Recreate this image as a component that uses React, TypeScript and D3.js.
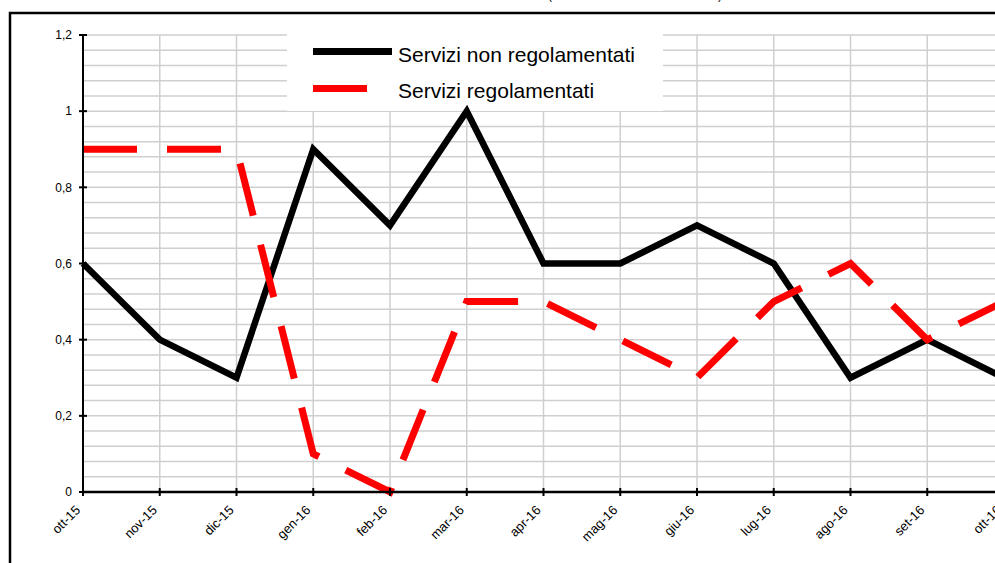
import React from "react";
import * as d3 from "d3";

const months = ["ott-15","nov-15","dic-15","gen-16","feb-16","mar-16","apr-16","mag-16","giu-16","lug-16","ago-16","set-16","ott-16"];
const nonRegolamentati = [0.6,0.4,0.3,0.9,0.7,1.0,0.6,0.6,0.7,0.6,0.3,0.4,0.3];
const regolamentati = [0.9,0.9,0.9,0.1,0,0.5,0.5,0.4,0.3,0.5,0.6,0.4,0.5];
const yTicks = [0,0.2,0.4,0.6,0.8,1,1.2];
const seriesNames = ["Servizi non regolamentati","Servizi regolamentati"];

const W = 995, H = 563;
const FONT = "'Liberation Sans', Arial, sans-serif";

export default function App() {
  const x = d3.scalePoint<string>().domain(months).range([83, 1004]);
  const y = d3.scaleLinear().domain([0, 1.2]).range([492, 35]);
  const line = d3.line<number>().x((_, i) => x(months[i])!).y(d => y(d));
  const minor = d3.range(0, 31).map(i => i * 0.04);
  const fmt = (v: number) => String(Math.round(v * 10) / 10).replace(".", ",");

  return (
    <div style={{ position: "fixed", left: 0, top: 0 }}>
      <svg width={W} height={H} style={{ display: "block", background: "#fff" }}>
        <text x={548} y={-1} fontFamily={FONT} fontSize={12}>(</text>
        <text x={718} y={-1} fontFamily={FONT} fontSize={12}>)</text>
        <rect x={10} y={13} width={1200} height={900} fill="#fff" stroke="#000" strokeWidth={2.5} />
        {/* horizontal grid */}
        {minor.map((v, i) => (
          <line key={"h" + i} x1={83} x2={W} y1={y(v)} y2={y(v)} stroke="#cfcfcf" strokeWidth={1.5} />
        ))}
        {/* vertical grid */}
        {months.slice(1).map(m => (
          <line key={"v" + m} x1={x(m)} x2={x(m)} y1={y(1.2)} y2={y(0)} stroke="#cfcfcf" strokeWidth={1.5} />
        ))}
        {/* legend box */}
        <rect x={287} y={28} width={376} height={83} fill="#fff" />
        {/* series */}
        <path d={line(nonRegolamentati)!} fill="none" stroke="#000" strokeWidth={6.5} strokeLinejoin="miter" />
        <path d={line(regolamentati)!} fill="none" stroke="#ff0000" strokeWidth={7} strokeDasharray="54 30" strokeLinejoin="miter" />
        {/* y axis */}
        <line x1={83} x2={83} y1={y(1.2)} y2={y(0)} stroke="#000" strokeWidth={2} />
        {yTicks.map(t => (
          <g key={"yt" + t}>
            <line x1={79} x2={87} y1={y(t)} y2={y(t)} stroke="#000" strokeWidth={2} />
            <text x={72} y={y(t)} dy="0.35em" textAnchor="end" fontFamily={FONT} fontSize={12}>{fmt(t)}</text>
          </g>
        ))}
        {/* x axis */}
        <line x1={83} x2={W} y1={y(0)} y2={y(0)} stroke="#000" strokeWidth={2.5} />
        {months.map(m => (
          <g key={"xt" + m}>
            <line x1={x(m)} x2={x(m)} y1={488} y2={496} stroke="#000" strokeWidth={2} />
            <text transform={`translate(${x(m)! - 2},${511}) rotate(-45)`} textAnchor="end" fontFamily={FONT} fontSize={13}>{m}</text>
          </g>
        ))}
        {/* legend */}
        <line x1={313} x2={392} y1={51.5} y2={51.5} stroke="#000" strokeWidth={7} />
        <line x1={313} x2={367} y1={88.5} y2={88.5} stroke="#ff0000" strokeWidth={7} />
        <text x={398} y={62} fontFamily={FONT} fontSize={21}>{seriesNames[0]}</text>
        <text x={398} y={98} fontFamily={FONT} fontSize={21}>{seriesNames[1]}</text>
      </svg>
    </div>
  );
}
